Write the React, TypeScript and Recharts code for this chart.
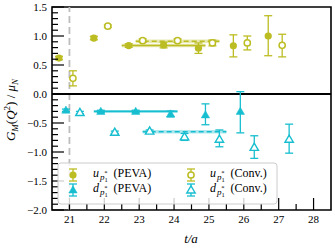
import React from 'react';
import { ComposedChart, Scatter, ErrorBar, XAxis, YAxis, ReferenceLine, ReferenceArea } from 'recharts';

const OLIVE = '#bcbd22';
const CYAN = '#17becf';
const FONT = '"Liberation Serif", "DejaVu Serif", serif';

// u quark, PEVA (points shifted by -0.3 in t)
const uPevaT = [20.7, 21.7, 22.7, 23.7, 24.7, 25.7, 26.7];
const uPevaVal = [0.62, 0.965, 0.835, 0.845, 0.79, 0.83, 1.0];
const uPevaLo = [0.03, 0.03, 0.03, 0.05, 0.09, 0.19, 0.34];
const uPevaHi = [0.03, 0.03, 0.03, 0.05, 0.09, 0.19, 0.35];

// u quark, conventional (shifted by +0.1)
const uConvT = [21.1, 22.1, 23.1, 24.1, 25.1, 26.1, 27.1];
const uConvVal = [0.27, 1.17, 0.92, 0.92, 0.88, 0.88, 0.84];
const uConvLo = [0.13, 0.02, 0.03, 0.03, 0.05, 0.12, 0.2];
const uConvHi = [0.13, 0.02, 0.03, 0.03, 0.05, 0.12, 0.19];

// d quark, PEVA (shifted by -0.1)
const dPevaT = [20.9, 21.9, 22.9, 23.9, 24.9, 25.9];
const dPevaVal = [-0.28, -0.3, -0.3, -0.345, -0.36, -0.3];
const dPevaLo = [0.02, 0.02, 0.02, 0.05, 0.17, 0.37];
const dPevaHi = [0.02, 0.02, 0.02, 0.05, 0.19, 0.34];

// d quark, conventional (shifted by +0.3)
const dConvT = [21.3, 22.3, 23.3, 24.3, 25.3, 26.3, 27.3];
const dConvVal = [-0.32, -0.66, -0.64, -0.74, -0.78, -0.92, -0.78];
const dConvLo = [0.02, 0.02, 0.02, 0.06, 0.13, 0.19, 0.24];
const dConvHi = [0.02, 0.02, 0.02, 0.06, 0.16, 0.2, 0.26];

// plateau fits: [t start, t end, value, half width]
const uPevaFit = [22.5, 24.9, 0.835, 0.03];
const uConvFit = [22.9, 25.3, 0.91, 0.03];
const dPevaFit = [21.7, 24.1, -0.3, 0.025];
const dConvFit = [23.1, 25.5, -0.65, 0.03];

const sourceT = 21;

const xMajorTicks = [21, 22, 23, 24, 25, 26, 27, 28];
const xMinorTicks = [21.5, 22.5, 23.5, 24.5, 25.5, 26.5, 27.5];
const yMajorTicks = [-2, -1.5, -1, -0.5, 0, 0.5, 1, 1.5];

const build = (ts: number[], vs: number[], lo: number[], hi: number[]) =>
  ts.map((t, i) => ({ t, v: vs[i], err: [lo[i], hi[i]] }));

const uPeva = build(uPevaT, uPevaVal, uPevaLo, uPevaHi);
const uConv = build(uConvT, uConvVal, uConvLo, uConvHi);
const dPeva = build(dPevaT, dPevaVal, dPevaLo, dPevaHi);
const dConv = build(dConvT, dConvVal, dConvLo, dConvHi);

// minor ticks every 0.1 on the y axis
const yTicks: number[] = [];
for (let k = -20; k <= 15; k++) yTicks.push(k / 10);
const xTicks = [...xMajorTicks, ...xMinorTicks].sort((a, b) => a - b);

const XTick = (props: any) => {
  const { x, y, payload } = props;
  const major = xMajorTicks.includes(payload.value);
  return (
    <g>
      <line x1={x} x2={x} y1={y} y2={y - (major ? 12 : 6)} stroke="#000" strokeWidth={1.2} />
      {major && (
        <text x={x} y={y + 13} textAnchor="middle" fontSize={11} fontFamily={FONT} fill="#000">
          {payload.value}
        </text>
      )}
    </g>
  );
};

const YTick = (props: any) => {
  const { x, y, payload } = props;
  const v = payload.value;
  const major = yMajorTicks.some((m) => Math.abs(m - v) < 1e-6);
  return (
    <g>
      <line x1={x} x2={x + (major ? 12 : 6)} y1={y} y2={y} stroke="#000" strokeWidth={1.2} />
      {major && (
        <text x={x - 5} y={y + 4} textAnchor="end" fontSize={11} fontFamily={FONT} fill="#000">
          {v.toFixed(1).replace('-', '\u2212')}
        </text>
      )}
    </g>
  );
};

const dot = (filled: boolean, color: string) => (p: any) => (
  <circle cx={p.cx} cy={p.cy} r={filled ? 3.6 : 3.1} fill={filled ? color : '#fff'} stroke={color} strokeWidth={filled ? 0 : 1.5} />
);

const tri = (filled: boolean, color: string) => (p: any) => {
  const { cx, cy } = p;
  const pts = `${cx},${cy - 4.2} ${cx - 4.2},${cy + 3} ${cx + 4.2},${cy + 3}`;
  return <polygon points={pts} fill={filled ? color : '#fff'} stroke={color} strokeWidth={filled ? 0.5 : 1.4} />;
};

const FitBand = (f: number[], color: string, dashed: boolean) => [
  <ReferenceArea key={`a${f[0]}${f[2]}`} x1={f[0]} x2={f[1]} y1={f[2] - f[3]} y2={f[2] + f[3]} fill={color} fillOpacity={0.35} stroke="none" />,
  <ReferenceLine
    key={`l${f[0]}${f[2]}`}
    segment={[{ x: f[0], y: f[2] }, { x: f[1], y: f[2] }]}
    stroke={color}
    strokeWidth={1.6}
    strokeDasharray={dashed ? '5 3' : undefined}
  />,
];

const Sub = ({ q }: { q: string }) => (
  <>
    <tspan fontStyle="italic">{q}</tspan>
    <tspan fontStyle="italic" fontSize={9} dx={1} dy={3}>p</tspan>
    <tspan fontSize={6.5} dy={2}>1</tspan>
    <tspan fontSize={6.5} dx={-3.5} dy={-7}>*</tspan>
  </>
);

const LegendMark = ({ x, y, color, kind }: { x: number; y: number; color: string; kind: string }) => {
  const m =
    kind === 'fc' ? dot(true, color)({ cx: x, cy: y }) :
    kind === 'oc' ? dot(false, color)({ cx: x, cy: y }) :
    kind === 'ft' ? tri(true, color)({ cx: x, cy: y }) : tri(false, color)({ cx: x, cy: y });
  return (
    <g>
      <line x1={x} x2={x} y1={y - 6} y2={y + 6} stroke={color} strokeWidth={1.3} />
      <line x1={x - 4} x2={x + 4} y1={y - 6} y2={y - 6} stroke={color} strokeWidth={1.3} />
      <line x1={x - 4} x2={x + 4} y1={y + 6} y2={y + 6} stroke={color} strokeWidth={1.3} />
      {m}
    </g>
  );
};

const Legend = () => (
  <svg width={221} height={43} style={{ position: 'absolute', left: 57, top: 162 }}>
    <rect x={1} y={1} width={219} height={41} rx={3} fill="#fff" fillOpacity={0.8} stroke="#ccc" strokeWidth={1} />
    <LegendMark x={16} y={13} color={OLIVE} kind="fc" />
    <LegendMark x={16} y={28} color={CYAN} kind="ft" />
    <LegendMark x={134} y={13} color={OLIVE} kind="oc" />
    <LegendMark x={134} y={28} color={CYAN} kind="ot" />
    <text x={36} y={15} fontSize={12} fontFamily={FONT}><Sub q="u" /><tspan dx={3} dy={2}> (PEVA)</tspan></text>
    <text x={36} y={30} fontSize={12} fontFamily={FONT}><Sub q="d" /><tspan dx={3} dy={2}> (PEVA)</tspan></text>
    <text x={153} y={15} fontSize={12} fontFamily={FONT}><Sub q="u" /><tspan dx={3} dy={2}> (Conv.)</tspan></text>
    <text x={153} y={30} fontSize={12} fontFamily={FONT}><Sub q="d" /><tspan dx={3} dy={2}> (Conv.)</tspan></text>
  </svg>
);

const Labels = () => (
  <svg width={335} height={251} style={{ position: 'absolute', left: 0, top: 0, pointerEvents: 'none' }}>
    <text transform="translate(15,110) rotate(-90)" textAnchor="middle" fontSize={13} fontFamily={FONT}>
      <tspan fontStyle="italic">G</tspan>
      <tspan fontStyle="italic" fontSize={9} dy={3}>M</tspan>
      <tspan dy={-3}>(</tspan>
      <tspan fontStyle="italic">Q</tspan>
      <tspan fontSize={9} dy={-5}>2</tspan>
      <tspan dy={5}>) / </tspan>
      <tspan fontStyle="italic">μ</tspan>
      <tspan fontStyle="italic" fontSize={9} dy={3}>N</tspan>
    </text>
    <text x={191} y={243} textAnchor="middle" fontSize={13} fontFamily={FONT} fontStyle="italic">t/a</text>
  </svg>
);

export default function App() {
  return (
    <div style={{ position: 'absolute', left: 0, top: 0, width: 335, height: 251, background: '#fff' }}>
      <ComposedChart width={335} height={251} margin={{ top: 7, right: 4, left: 0, bottom: 0 }}>
        <XAxis
          type="number"
          dataKey="t"
          domain={[20.5, 28.5]}
          ticks={xTicks}
          interval={0}
          tickSize={0}
          tickMargin={0}
          tick={<XTick />}
          axisLine={false}
          tickLine={false}
          height={41}
          allowDataOverflow
        />
        <YAxis
          type="number"
          dataKey="v"
          domain={[-2, 1.5]}
          ticks={yTicks}
          interval={0}
          tickSize={0}
          tickMargin={0}
          tick={<YTick />}
          axisLine={false}
          tickLine={false}
          width={52}
          allowDataOverflow
        />
        <ReferenceLine x={sourceT} stroke="#bdbdbd" strokeWidth={1.8} strokeDasharray="7 4" />
        <ReferenceLine y={0} stroke="#000" strokeWidth={1.8} />
        {FitBand(uPevaFit, OLIVE, false)}
        {FitBand(uConvFit, OLIVE, true)}
        {FitBand(dPevaFit, CYAN, false)}
        {FitBand(dConvFit, CYAN, true)}
        <Scatter data={uPeva} dataKey="v" shape={dot(true, OLIVE)} isAnimationActive={false}>
          <ErrorBar dataKey="err" direction="y" width={4} stroke={OLIVE} strokeWidth={1.3} />
        </Scatter>
        <Scatter data={uConv} dataKey="v" shape={dot(false, OLIVE)} isAnimationActive={false}>
          <ErrorBar dataKey="err" direction="y" width={4} stroke={OLIVE} strokeWidth={1.3} />
        </Scatter>
        <Scatter data={dPeva} dataKey="v" shape={tri(true, CYAN)} isAnimationActive={false}>
          <ErrorBar dataKey="err" direction="y" width={4} stroke={CYAN} strokeWidth={1.3} />
        </Scatter>
        <Scatter data={dConv} dataKey="v" shape={tri(false, CYAN)} isAnimationActive={false}>
          <ErrorBar dataKey="err" direction="y" width={4} stroke={CYAN} strokeWidth={1.3} />
        </Scatter>
        <ReferenceArea x1={20.5} x2={28.5} y1={-2} y2={1.5} fill="none" stroke="#000" strokeWidth={1.6} />
      </ComposedChart>
      <Legend />
      <Labels />
    </div>
  );
}
